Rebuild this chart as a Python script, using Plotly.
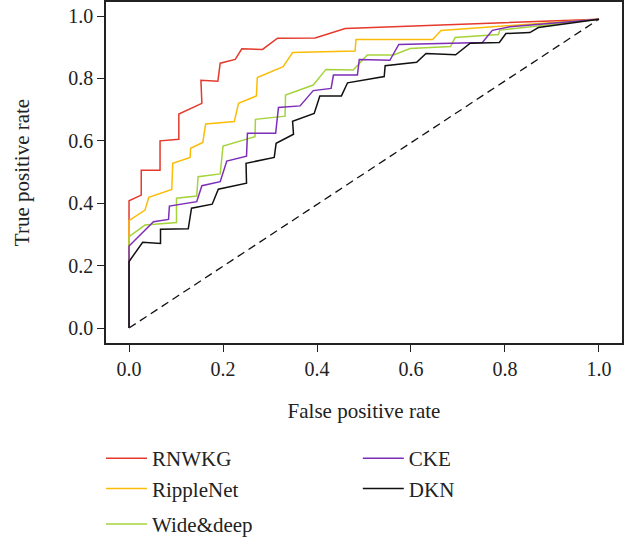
import plotly.graph_objects as go

# ROC curve data
rnwkg_fpr = [0, 0, 0.026, 0.026, 0.066, 0.066, 0.106, 0.106, 0.155, 0.153, 0.189, 0.194, 0.226, 0.240, 0.284, 0.316, 0.396, 0.460, 1.0]
rnwkg_tpr = [0, 0.408, 0.426, 0.506, 0.506, 0.600, 0.605, 0.686, 0.720, 0.794, 0.791, 0.849, 0.861, 0.895, 0.893, 0.929, 0.930, 0.960, 0.99]

ripple_fpr = [0, 0, 0.034, 0.042, 0.091, 0.093, 0.130, 0.131, 0.157, 0.163, 0.224, 0.233, 0.271, 0.273, 0.328, 0.348, 0.481, 0.483, 0.646, 0.664, 1.0]
ripple_tpr = [0, 0.344, 0.378, 0.419, 0.444, 0.528, 0.547, 0.576, 0.595, 0.654, 0.662, 0.720, 0.744, 0.803, 0.838, 0.883, 0.888, 0.925, 0.925, 0.954, 0.99]

wide_fpr = [0, 0, 0.034, 0.101, 0.101, 0.144, 0.147, 0.194, 0.200, 0.268, 0.269, 0.332, 0.333, 0.392, 0.419, 0.477, 0.507, 0.563, 0.598, 0.684, 0.694, 0.786, 0.789, 1.0]
wide_tpr = [0, 0.293, 0.330, 0.338, 0.416, 0.423, 0.485, 0.494, 0.583, 0.613, 0.669, 0.679, 0.747, 0.779, 0.829, 0.827, 0.875, 0.875, 0.896, 0.902, 0.931, 0.941, 0.955, 0.99]

cke_fpr = [0, 0, 0.052, 0.084, 0.086, 0.144, 0.155, 0.194, 0.208, 0.250, 0.252, 0.312, 0.318, 0.364, 0.392, 0.430, 0.435, 0.486, 0.490, 0.555, 0.574, 0.752, 0.773, 0.811, 1.0]
cke_tpr = [0, 0.263, 0.341, 0.348, 0.391, 0.405, 0.456, 0.469, 0.535, 0.551, 0.624, 0.624, 0.707, 0.712, 0.761, 0.768, 0.811, 0.811, 0.861, 0.858, 0.909, 0.915, 0.954, 0.966, 0.99]

dkn_fpr = [0, 0, 0.029, 0.067, 0.067, 0.126, 0.133, 0.177, 0.190, 0.250, 0.249, 0.309, 0.313, 0.350, 0.348, 0.394, 0.406, 0.452, 0.465, 0.543, 0.545, 0.612, 0.632, 0.695, 0.726, 0.788, 0.802, 0.853, 0.871, 1.0]
dkn_tpr = [0, 0.213, 0.275, 0.271, 0.317, 0.318, 0.384, 0.397, 0.445, 0.464, 0.528, 0.547, 0.592, 0.621, 0.663, 0.688, 0.744, 0.744, 0.786, 0.806, 0.841, 0.852, 0.880, 0.876, 0.913, 0.915, 0.944, 0.947, 0.963, 0.99]

chance_fpr = [0, 1.0]
chance_tpr = [0, 0.99]

tick_vals = [0.0, 0.2, 0.4, 0.6, 0.8, 1.0]
tick_text = ["0.0", "0.2", "0.4", "0.6", "0.8", "1.0"]

FONT = "Liberation Serif"
TXT = "#222222"

fig = go.Figure()

series = [
    ("RNWKG", rnwkg_fpr, rnwkg_tpr, "#e4392b", "legend"),
    ("RippleNet", ripple_fpr, ripple_tpr, "#fbbc08", "legend"),
    ("Wide&deep", wide_fpr, wide_tpr, "#a6d33c", "legend3"),
    ("CKE", cke_fpr, cke_tpr, "#7d2db8", "legend2"),
    ("DKN", dkn_fpr, dkn_tpr, "#111111", "legend2"),
]

fig.add_trace(go.Scatter(x=chance_fpr, y=chance_tpr, mode="lines",
                         line=dict(color="#111111", width=1.3, dash="8px,5px"),
                         showlegend=False, hoverinfo="skip"))

for name, xs, ys, col, lg in series:
    fig.add_trace(go.Scatter(x=xs, y=ys, mode="lines", name=name,
                             line=dict(color=col, width=1.5), legend=lg))

axis_common = dict(
    showgrid=False, zeroline=False, showline=True, linecolor=TXT,
    linewidth=1.5, mirror=True, ticks="outside", ticklen=7, tickwidth=1.3,
    tickcolor=TXT, tickvals=tick_vals, ticktext=tick_text,
    tickfont=dict(family=FONT, size=20, color=TXT),
)

fig.update_xaxes(range=[-0.049, 1.049],
                 title=dict(text="False positive rate", standoff=25,
                            font=dict(family=FONT, size=21, color=TXT)),
                 **axis_common)
fig.update_yaxes(range=[-0.048, 1.045],
                 title=dict(text="True positive rate", standoff=33,
                            font=dict(family=FONT, size=21, color=TXT)),
                 **axis_common)

leg_common = dict(font=dict(family=FONT, size=21, color=TXT),
                  bgcolor="rgba(0,0,0,0)", borderwidth=0,
                  orientation="v", xanchor="left", yanchor="top",
                  itemwidth=41, tracegroupgap=0)

fig.update_layout(
    width=636, height=539,
    margin=dict(l=106, r=14, t=2, b=196, autoexpand=False),
    paper_bgcolor="white", plot_bgcolor="white",
    font=dict(family=FONT, color=TXT),
    legend=dict(x=-0.0097, y=-0.279, **leg_common),
    legend3=dict(x=-0.0097, y=-0.472, **leg_common),
    legend2=dict(x=0.488, y=-0.279, **leg_common),
)

fig.write_html("out.html", config={"displayModeBar": False},
               post_script="document.body.style.margin='0';")
